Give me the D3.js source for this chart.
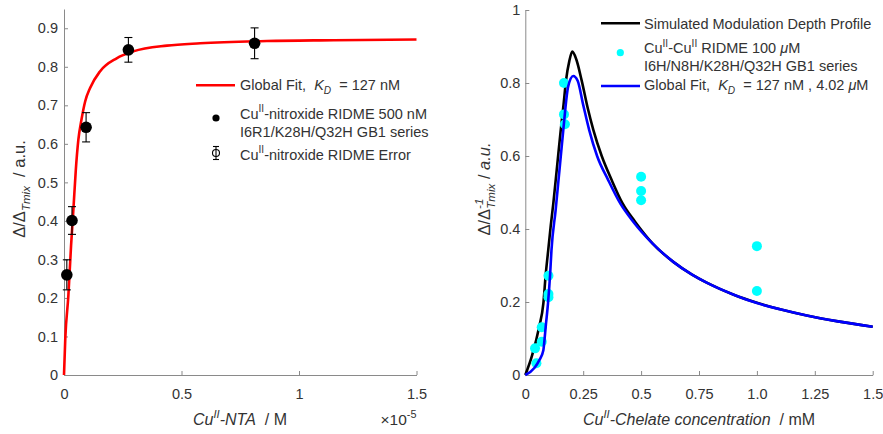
<!DOCTYPE html>
<html>
<head>
<meta charset="utf-8">
<script src="https://cdn.jsdelivr.net/npm/d3@7"></script>
<style>
  body { margin: 0; background: #fff; }
  svg text { font-family: "Liberation Sans", Arial, Helvetica, sans-serif; white-space: pre; }
</style>
</head>
<body>
<svg id="chart" width="883" height="434"></svg>
<script>
// ---- Left panel: Cu(II)-nitroxide RIDME titration (x in units of 1e-5 M) ----
const nitroxideConc  = [0.012, 0.034, 0.094, 0.274, 0.811];
const nitroxideDepth = [0.260, 0.401, 0.643, 0.844, 0.861];
const nitroxideErr   = [0.039, 0.036, 0.038, 0.032, 0.040];

// global fit curve, K_D = 127 nM
const fitConc  = [0, 0.0055, 0.0185, 0.030, 0.040, 0.050, 0.061, 0.075, 0.090, 0.111, 0.153, 0.224, 0.295, 0.438, 0.58, 0.864, 1.148, 1.5];
const fitDepth = [0, 0.095, 0.205, 0.335, 0.43, 0.53, 0.61, 0.665, 0.71, 0.745, 0.788, 0.822, 0.840, 0.855, 0.861, 0.867, 0.869, 0.871];

const leftXTicks = [0, 0.5, 1, 1.5];
const leftYTicks = [0, 0.1, 0.2, 0.3, 0.4, 0.5, 0.6, 0.7, 0.8, 0.9];

// ---- Right panel: Cu(II)-Cu(II) RIDME (x in mM) ----
const chelateConc  = [0.048, 0.042, 0.071, 0.071, 0.100, 0.100, 0.100, 0.167, 0.167, 0.171, 0.5, 0.5, 0.5, 1.0, 1.0];
const chelateDepth = [0.032, 0.073, 0.091, 0.131, 0.213, 0.222, 0.272, 0.800, 0.714, 0.687, 0.543, 0.504, 0.479, 0.353, 0.230];

// simulated modulation depth profile
const simConc  = [0, 0.03, 0.06, 0.078, 0.088, 0.099, 0.110, 0.121, 0.137, 0.153, 0.165, 0.176, 0.190, 0.203, 0.220, 0.243, 0.270, 0.294, 0.330, 0.373, 0.420, 0.474, 0.550, 0.639, 0.720, 0.783, 0.900, 1.0, 1.1, 1.215, 1.35, 1.5];
const simDepth = [0, 0.055, 0.132, 0.196, 0.274, 0.342, 0.41, 0.47, 0.57, 0.671, 0.74, 0.808, 0.860, 0.886, 0.865, 0.808, 0.730, 0.671, 0.600, 0.534, 0.470, 0.420, 0.360, 0.310, 0.275, 0.253, 0.220, 0.198, 0.180, 0.163, 0.147, 0.132];

// global fit, K_D = 127 nM, 4.02 uM
const gfConc  = [0, 0.04, 0.06, 0.078, 0.083, 0.088, 0.098, 0.107, 0.113, 0.131, 0.148, 0.164, 0.185, 0.207, 0.226, 0.250, 0.276, 0.310, 0.358, 0.410, 0.466, 0.550, 0.639, 0.720, 0.783, 0.900, 1.0, 1.1, 1.215, 1.35, 1.5];
const gfDepth = [0, 0.02, 0.04, 0.068, 0.097, 0.132, 0.196, 0.274, 0.342, 0.452, 0.565, 0.671, 0.790, 0.819, 0.806, 0.740, 0.671, 0.600, 0.534, 0.470, 0.420, 0.360, 0.310, 0.275, 0.253, 0.220, 0.197, 0.180, 0.163, 0.147, 0.132];

const rightXTicks = [0, 0.25, 0.5, 0.75, 1, 1.25, 1.5];
const rightXLabels = ["0", "0.25", "0.5", "0.75", "1.0", "1.25", "1.5"];
const rightYTicks = [0, 0.2, 0.4, 0.6, 0.8, 1];

const svg = d3.select("#chart");
const AXIS = "#8a8a8a", TEXT = "#333333";
const TICK_FS = 14.5, LEG_FS = 14.5, LAB_FS = 16, YLAB_FS = 16.5;

// rich text: segments with optional italic / superscript / subscript
function rich(parent, x, y, segs, fs, anchor) {
  const t = parent.append("text").attr("x", x).attr("y", y)
    .attr("fill", TEXT).style("font-size", fs + "px")
    .attr("text-anchor", anchor || "start");
  let cur = 0;
  segs.forEach(s => {
    const off = s.sup ? -fs * 0.42 : s.sub ? fs * 0.33 : 0;
    const ts = t.append("tspan").attr("dy", off - cur)
      .style("font-size", (s.sup || s.sub ? fs * 0.7 : fs) + "px")
      .style("font-style", s.it ? "italic" : "normal")
      .text(s.t);
    if (s.dx) ts.attr("dx", s.dx);
    cur = off;
  });
  return t;
}

function styleAxis(g) {
  g.selectAll("path.domain").attr("stroke", AXIS);
  g.selectAll(".tick line").attr("stroke", AXIS);
  g.selectAll(".tick text").attr("fill", TEXT).style("font-size", TICK_FS + "px")
    .style("font-family", '"Liberation Sans", Arial, sans-serif');
}

// ===== Left panel =====
const xL = d3.scaleLinear().domain([0, 1.5]).range([64, 416.5]);
const yL = d3.scaleLinear().domain([0, 0.95]).range([375, 9]);

svg.append("g").attr("transform", `translate(0,${yL(0)})`)
  .call(d3.axisBottom(xL).tickValues(leftXTicks).tickFormat(d3.format("")).tickSizeInner(-4).tickSizeOuter(0).tickPadding(14))
  .call(styleAxis);
svg.append("g").attr("transform", `translate(${xL(0)},0)`)
  .call(d3.axisLeft(yL).tickValues(leftYTicks).tickFormat(d3.format("")).tickSizeInner(-4).tickSizeOuter(0).tickPadding(6))
  .call(styleAxis);

// fit curve
svg.append("path")
  .datum(fitConc.map((c, i) => [c, fitDepth[i]]))
  .attr("fill", "none").attr("stroke", "#ff0000").attr("stroke-width", 2.6)
  .attr("d", d3.line().x(d => xL(d[0])).y(d => yL(d[1])).curve(d3.curveMonotoneX));

// error bars
const eb = svg.append("g").attr("stroke", "#000").attr("stroke-width", 1.1);
nitroxideConc.forEach((c, i) => {
  const x = xL(c), y1 = yL(nitroxideDepth[i] - nitroxideErr[i]), y2 = yL(nitroxideDepth[i] + nitroxideErr[i]);
  eb.append("line").attr("x1", x).attr("x2", x).attr("y1", y1).attr("y2", y2);
  eb.append("line").attr("x1", x - 4).attr("x2", x + 4).attr("y1", y1).attr("y2", y1);
  eb.append("line").attr("x1", x - 4).attr("x2", x + 4).attr("y1", y2).attr("y2", y2);
});
svg.append("g").selectAll("circle")
  .data(nitroxideConc.map((c, i) => [c, nitroxideDepth[i]]))
  .join("circle").attr("cx", d => xL(d[0])).attr("cy", d => yL(d[1])).attr("r", 5.8).attr("fill", "#000");

// left labels
rich(svg, 240, 425, [
  { t: "Cu", it: true }, { t: "II", it: true, sup: true }, { t: "-NTA", it: true }, { t: "  / M" }
], LAB_FS, "middle");
rich(svg, 416.5, 425, [{ t: "\u00d710" }, { t: "-5", sup: true }], 15.5, "end");

const yLab = svg.append("g").attr("transform", "translate(25,189) rotate(-90)");
rich(yLab, 0, 0, [{ t: "\u0394/\u0394" }, { t: "Tmix", it: true, sub: true }, { t: "  / a.u." }], YLAB_FS, "middle");

// left legend
const lg = svg.append("g");
lg.append("line").attr("x1", 196).attr("x2", 235).attr("y1", 85.3).attr("y2", 85.3)
  .attr("stroke", "#ff0000").attr("stroke-width", 2.6);
rich(lg, 240, 89.5, [{ t: "Global Fit,  " }, { t: "K", it: true }, { t: "D", it: true, sub: true }, { t: "  = 127 nM" }], LEG_FS);
lg.append("circle").attr("cx", 216).attr("cy", 118).attr("r", 3.6).attr("fill", "#000");
rich(lg, 240, 118.5, [{ t: "Cu" }, { t: "II", sup: true }, { t: "-nitroxide RIDME 500 nM" }], LEG_FS);
rich(lg, 240, 136.5, [{ t: "I6R1/K28H/Q32H GB1 series" }], LEG_FS);
const li = lg.append("g").attr("stroke", "#000").attr("stroke-width", 1.1).attr("fill", "none");
li.append("line").attr("x1", 216).attr("x2", 216).attr("y1", 146.5).attr("y2", 159.5);
li.append("line").attr("x1", 213).attr("x2", 219).attr("y1", 146.5).attr("y2", 146.5);
li.append("line").attr("x1", 213).attr("x2", 219).attr("y1", 159.5).attr("y2", 159.5);
li.append("circle").attr("cx", 216).attr("cy", 153).attr("r", 3.5);
rich(lg, 240, 159.5, [{ t: "Cu" }, { t: "II", sup: true }, { t: "-nitroxide RIDME Error" }], LEG_FS);

// ===== Right panel =====
const xR = d3.scaleLinear().domain([0, 1.5]).range([525.3, 872.7]);
const yR = d3.scaleLinear().domain([0, 1]).range([375, 10]);

svg.append("g").attr("transform", `translate(0,${yR(0)})`)
  .call(d3.axisBottom(xR).tickValues(rightXTicks).tickFormat((d, i) => rightXLabels[i]).tickSizeInner(-4).tickSizeOuter(0).tickPadding(14))
  .call(styleAxis);
svg.append("g").attr("transform", `translate(${xR(0)},0)`)
  .call(d3.axisLeft(yR).tickValues(rightYTicks).tickFormat(d3.format("")).tickSizeInner(-4).tickSizeOuter(0).tickPadding(5))
  .call(styleAxis);

const lineR = d3.line().x(d => xR(d[0])).y(d => yR(d[1])).curve(d3.curveMonotoneX);
svg.append("path").datum(simConc.map((c, i) => [c, simDepth[i]]))
  .attr("fill", "none").attr("stroke", "#000").attr("stroke-width", 2.6).attr("d", lineR);
svg.append("g").selectAll("circle")
  .data(chelateConc.map((c, i) => [c, chelateDepth[i]]))
  .join("circle").attr("cx", d => xR(d[0])).attr("cy", d => yR(d[1])).attr("r", 5).attr("fill", "#00ffff");
svg.append("path").datum(gfConc.map((c, i) => [c, gfDepth[i]]))
  .attr("fill", "none").attr("stroke", "#0000ff").attr("stroke-width", 2.6).attr("d", lineR);

rich(svg, 699, 425, [
  { t: "Cu", it: true }, { t: "II", it: true, sup: true }, { t: "-Chelate concentration", it: true }, { t: "  / mM" }
], LAB_FS, "middle");

const yLabR = svg.append("g").attr("transform", "translate(490,189) rotate(-90)");
rich(yLabR, 0, 0, [
  { t: "\u0394/\u0394" }, { t: "-1", it: true, sup: true }, { t: "Tmix", it: true, sub: true, dx: -10 },
  { t: " / " }, { t: "a.u.", it: true }
], YLAB_FS, "middle");

// right legend
const rg = svg.append("g");
rg.append("line").attr("x1", 601).attr("x2", 640).attr("y1", 23.3).attr("y2", 23.3)
  .attr("stroke", "#000").attr("stroke-width", 2.6);
rich(rg, 644, 28.5, [{ t: "Simulated Modulation Depth Profile" }], LEG_FS);
rg.append("circle").attr("cx", 620.3).attr("cy", 52.7).attr("r", 3.6).attr("fill", "#00ffff");
rich(rg, 644, 53, [{ t: "Cu" }, { t: "II", sup: true }, { t: "-Cu" }, { t: "II", sup: true }, { t: " RIDME 100 " }, { t: "\u03bc", it: true }, { t: "M" }], LEG_FS);
rich(rg, 644, 71, [{ t: "I6H/N8H/K28H/Q32H GB1 series" }], LEG_FS);
rg.append("line").attr("x1", 601).attr("x2", 640).attr("y1", 86).attr("y2", 86)
  .attr("stroke", "#0000ff").attr("stroke-width", 2.6);
rich(rg, 644, 89.5, [{ t: "Global Fit,  " }, { t: "K", it: true }, { t: "D", it: true, sub: true }, { t: "  = 127 nM , 4.02 " }, { t: "\u03bc", it: true }, { t: "M" }], LEG_FS);
</script>
</body>
</html>
